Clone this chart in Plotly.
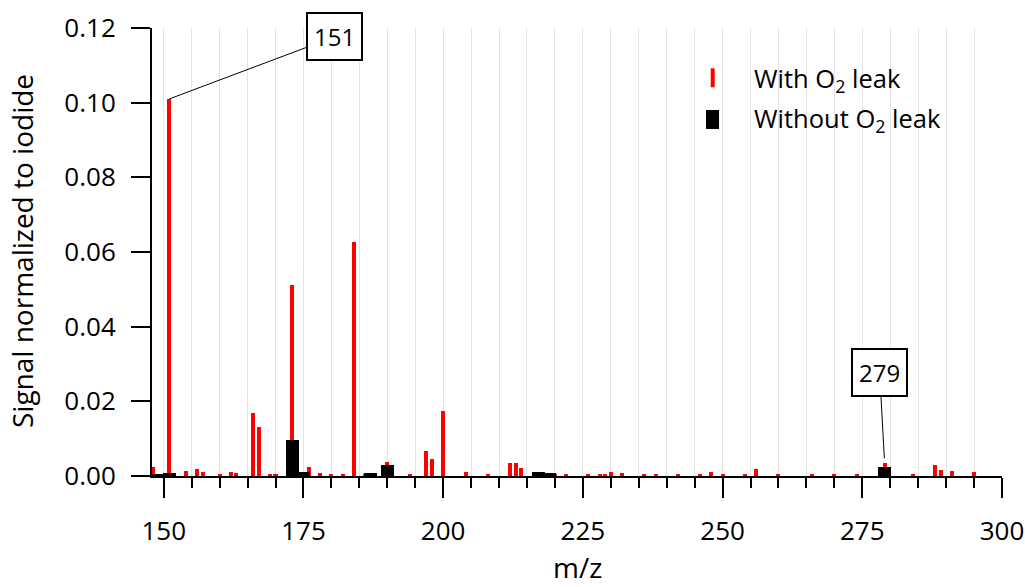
import plotly.graph_objects as go

# m/z peaks measured with the O2 leak (signal normalized to iodide)
mz_with_o2 = [148, 151, 154, 156, 157, 160, 162, 163, 166, 167, 169, 170,
              173, 176, 178, 180, 182, 184, 186, 190, 194, 197, 198, 200,
              204, 208, 212, 213, 214, 220, 222, 226, 228, 229, 230, 232,
              236, 238, 242, 246, 248, 250, 254, 256, 260, 266, 270, 274,
              279, 284, 288, 289, 291, 295]
sig_with_o2 = [0.0025, 0.101, 0.0014, 0.0020, 0.0012, 0.0003, 0.0012, 0.0008,
               0.0168, 0.0130, 0.0003, 0.0003, 0.0512, 0.0023, 0.0007, 0.0003,
               0.0005, 0.0627, 0.0003, 0.0038, 0.0003, 0.0068, 0.0046, 0.0173,
               0.0012, 0.0003, 0.0036, 0.0036, 0.0022, 0.0005, 0.0003, 0.0003,
               0.0003, 0.0005, 0.0011, 0.0007, 0.0003, 0.0005, 0.0003, 0.0003,
               0.0010, 0.0003, 0.0003, 0.0020, 0.0005, 0.0003, 0.0003, 0.0003,
               0.0034, 0.0003, 0.0030, 0.0016, 0.0013, 0.0010]

# m/z peaks measured without the O2 leak
mz_without_o2 = [149, 151, 173, 175, 187, 190, 217, 219, 279]
sig_without_o2 = [0.0004, 0.0008, 0.0096, 0.0011, 0.0008, 0.0029, 0.0012, 0.0007, 0.0024]

x_ticks = [150, 175, 200, 225, 250, 275, 300]
y_ticks = [0.00, 0.02, 0.04, 0.06, 0.08, 0.10, 0.12]

FONT = "Open Sans"
GRID = "#e4e4e4"
W, H = 1025, 587
L, R, T, B = 152, 23, 28, 111

fig = go.Figure()
fig.add_trace(go.Bar(x=mz_with_o2, y=sig_with_o2, width=0.72,
                     marker=dict(color="#ff0000", line=dict(width=0)),
                     name="With O<sub>2</sub> leak", showlegend=False))
fig.add_trace(go.Bar(x=mz_without_o2, y=sig_without_o2, width=2.3,
                     marker=dict(color="#000000", line=dict(width=0)),
                     name="Without O<sub>2</sub> leak", showlegend=False))

# legend drawn by hand: thin red stick and wide black block
fig.add_shape(type="rect", xref="paper", yref="paper",
              x0=0.6573, x1=0.6620, y0=0.8676, y1=0.9100,
              fillcolor="#ff0000", line=dict(width=0))
fig.add_shape(type="rect", xref="paper", yref="paper",
              x0=0.6518, x1=0.6671, y0=0.7746, y1=0.8170,
              fillcolor="#000000", line=dict(width=0))
for ytxt, label in [(0.884, "With O<sub>2</sub> leak"), (0.795, "Without O<sub>2</sub> leak")]:
    fig.add_annotation(xref="paper", yref="paper", x=0.706, y=ytxt,
                       xanchor="left", yanchor="middle", text=label,
                       showarrow=False, font=dict(family=FONT, size=25.5, color="black"))

# boxed peak labels with leader lines
fig.add_annotation(x=151, y=0.101, text="151", showarrow=True, arrowhead=0,
                   arrowwidth=1, arrowcolor="black", ax=165, ay=-62, standoff=0,
                   bordercolor="black", borderwidth=2, borderpad=6, bgcolor="white",
                   font=dict(family=FONT, size=24, color="black"))
fig.add_annotation(x=279, y=0.0034, text="279", showarrow=True, arrowhead=0,
                   arrowwidth=1, arrowcolor="black", ax=-5, ay=-91, standoff=5,
                   bordercolor="black", borderwidth=2, borderpad=6, bgcolor="white",
                   font=dict(family=FONT, size=24, color="black"))

# axis titles placed in paper coordinates
pw, ph = W - L - R, H - T - B
fig.add_annotation(xref="paper", yref="paper",
                   x=(22 - L) / pw, y=(H - B - 251) / ph,
                   text="Signal normalized to iodide", textangle=-90,
                   showarrow=False, xanchor="center", yanchor="middle",
                   font=dict(family=FONT, size=28, color="black"))
fig.add_annotation(xref="paper", yref="paper",
                   x=(577 - L) / pw, y=(H - B - 587) / ph,
                   text="m/z", showarrow=False, xanchor="center", yanchor="bottom",
                   borderpad=0,
                   font=dict(family=FONT, size=28, color="black"))

fig.update_layout(
    width=W, height=H,
    margin=dict(l=L, r=R, t=T, b=B),
    paper_bgcolor="white", plot_bgcolor="white",
    barmode="overlay", bargap=0,
    font=dict(family=FONT, size=26, color="black"),
    showlegend=False,
)
fig.update_xaxes(
    range=[147.9, 300], tickvals=x_ticks, ticks="outside", ticklen=20,
    tickwidth=2, tickcolor="black", showline=True, linecolor="black",
    linewidth=2, showgrid=True, gridcolor=GRID, gridwidth=1, zeroline=False,
    minor=dict(dtick=5, tick0=150, ticks="outside", ticklen=10, tickwidth=2,
               tickcolor="black", showgrid=True, gridcolor=GRID, gridwidth=1),
    tickfont=dict(family=FONT, size=26), ticklabelstandoff=11,
    automargin=False,
)
fig.update_yaxes(
    range=[0, 0.12], tickvals=y_ticks, tickformat=".2f", ticks="outside",
    ticklen=19, tickwidth=2, tickcolor="black", showline=True,
    linecolor="black", linewidth=2, showgrid=False, zeroline=False,
    tickfont=dict(family=FONT, size=26), ticklabelstandoff=10,
    automargin=False,
)

fig.write_html("out.html")
